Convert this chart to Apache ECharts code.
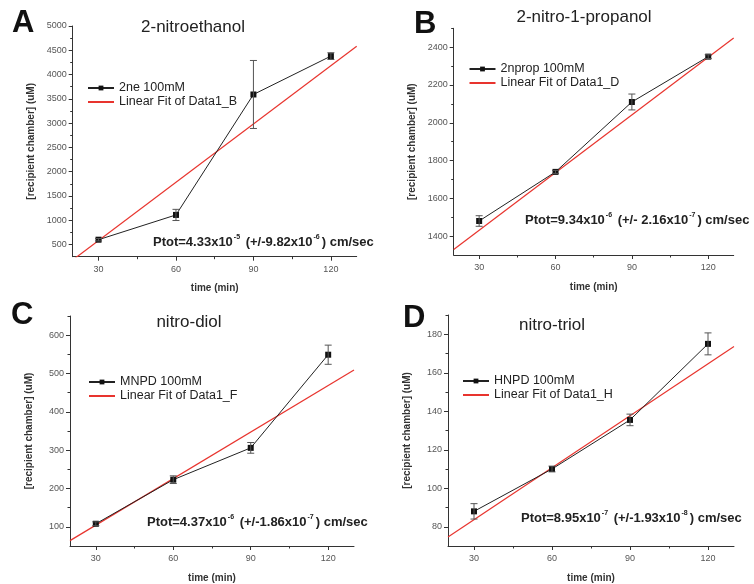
<!DOCTYPE html>
<html>
<head>
<meta charset="utf-8">
<script src="https://cdn.jsdelivr.net/npm/echarts@6/dist/echarts.min.js"></script>
<style>
  html, body { margin: 0; padding: 0; background: #fff; }
  #main { width: 754px; height: 584px; }
</style>
</head>
<body>
<div id="main"></div>
<script>
// time points (min)
var timeMin = [30, 60, 90, 120];
var xLabels = [30, 60, 90, 120];
var xMinor = [45, 75, 105];

// A - 2-nitroethanol
var meanA = [600, 1110, 3590, 4380];
var errA = [25, 115, 700, 70];
// B - 2-nitro-1-propanol
var meanB = [1480, 1740, 2110, 2350];
var errB = [28, 8, 42, 10];
// C - nitro-diol
var meanC = [108, 223, 306, 549];
var errC = [5, 10, 14, 25];
// D - nitro-triol
var meanD = [88, 110, 135.5, 175];
var errD = [4, 1.5, 3, 5.7];

// linear fit, read at the ends of the x range
var fitTime = [20, 130];
var fitA = [182, 4584];
var fitB = [1329, 2449];
var fitC = [64, 509];
var fitD = [74.7, 173.7];

// y tick labels
var yTicksA = [500, 1000, 1500, 2000, 2500, 3000, 3500, 4000, 4500, 5000];
var yMinorA = [750, 1250, 1750, 2250, 2750, 3250, 3750, 4250, 4750];
var yTicksB = [1400, 1600, 1800, 2000, 2200, 2400];
var yMinorB = [1500, 1700, 1900, 2100, 2300, 2500];
var yTicksC = [100, 200, 300, 400, 500, 600];
var yMinorC = [150, 250, 350, 450, 550, 650];
var yTicksD = [80, 100, 120, 140, 160, 180];
var yMinorD = [90, 110, 130, 150, 170, 190];

var seriesNames = ["2ne 100mM", "2nprop 100mM", "MNPD 100mM", "HNPD 100mM"];
var fitNames = ["Linear Fit of Data1_B", "Linear Fit of Data1_D", "Linear Fit of Data1_F", "Linear Fit of Data1_H"];
var titles = ["2-nitroethanol", "2-nitro-1-propanol", "nitro-diol", "nitro-triol"];
var letters = ["A", "B", "C", "D"];

var FONT = "Liberation Sans, Arial, sans-serif";
var chart = echarts.init(document.getElementById("main"));

var panels = [
  { grid: { left: 72.7, top: 26, width: 284, height: 230.7 }, min: 250, max: 5000,
    ticks: yTicksA, minor: yMinorA, mean: meanA, err: errA, fit: fitA,
    legend: { left: 87, top: 81 }, title: [193, 27], letter: [12, 8],
    ptot: [153, 242, "4.33x10", "-5", " (+/-9.82x10", "-6", ") cm/sec"] },
  { grid: { left: 453.7, top: 28.3, width: 280, height: 226.7 }, min: 1300, max: 2500,
    ticks: yTicksB, minor: yMinorB, mean: meanB, err: errB, fit: fitB,
    legend: { left: 468.5, top: 62 }, title: [584, 17], letter: [414, 9],
    ptot: [525, 220, "9.34x10", "-6", " (+/- 2.16x10", "-7", ") cm/sec"] },
  { grid: { left: 70, top: 316, width: 284, height: 230 }, min: 50, max: 650,
    ticks: yTicksC, minor: yMinorC, mean: meanC, err: errC, fit: fitC,
    legend: { left: 88, top: 375 }, title: [189, 322], letter: [11, 300],
    ptot: [147, 522, "4.37x10", "-6", " (+/-1.86x10", "-7", ") cm/sec"] },
  { grid: { left: 448, top: 315, width: 286, height: 231 }, min: 70, max: 190,
    ticks: yTicksD, minor: yMinorD, mean: meanD, err: errD, fit: fitD,
    legend: { left: 462, top: 374 }, title: [552, 325], letter: [403, 303],
    ptot: [521, 518, "8.95x10", "-7", " (+/-1.93x10", "-8", ") cm/sec"] }
];

var grids = [], xAxes = [], yAxes = [], series = [], legends = [], graphics = [];
var plain = function (v) { return String(v); };

panels.forEach(function (p, i) {
  grids.push(p.grid);
  var axisLine = { show: true, lineStyle: { color: "#333", width: 1 } };
  // main x axis
  xAxes.push({
    type: "value", gridIndex: i, position: "bottom", min: 20, max: 130,
    name: "time (min)", nameLocation: "middle", nameGap: 27,
    nameTextStyle: { fontFamily: FONT, fontWeight: "bold", fontSize: 10, color: "#333" },
    axisLine: axisLine,
    axisTick: { show: true, length: 4, customValues: xLabels, lineStyle: { color: "#333" } },
    axisLabel: { customValues: xLabels, formatter: plain, fontFamily: FONT, fontSize: 9, color: "#555", margin: 8 },
    splitLine: { show: false }
  });
  // minor x ticks
  xAxes.push({
    type: "value", gridIndex: i, position: "bottom", offset: 0, min: 20, max: 130,
    axisLine: { show: false },
    axisTick: { show: true, length: 2.5, customValues: xMinor, lineStyle: { color: "#333" } },
    axisLabel: { show: false }, splitLine: { show: false }
  });
  yAxes.push({
    type: "value", gridIndex: i, position: "left", min: p.min, max: p.max,
    name: "[recipient chamber] (uM)", nameLocation: "middle", nameGap: 36,
    nameTextStyle: { fontFamily: FONT, fontWeight: "bold", fontSize: 10, color: "#333" },
    axisLine: axisLine,
    axisTick: { show: true, length: 4, customValues: p.ticks, lineStyle: { color: "#333" } },
    axisLabel: { customValues: p.ticks, formatter: plain, fontFamily: FONT, fontSize: 9, color: "#555", margin: 6 },
    splitLine: { show: false }
  });
  yAxes.push({
    type: "value", gridIndex: i, position: "left", offset: 0, min: p.min, max: p.max,
    axisLine: { show: false },
    axisTick: { show: true, length: 2.5, customValues: p.minor, lineStyle: { color: "#333" } },
    axisLabel: { show: false }, splitLine: { show: false }
  });

  var xi = i * 2, yi = i * 2;
  var pts = timeMin.map(function (t, k) { return [t, p.mean[k]]; });
  var bars = timeMin.map(function (t, k) { return [t, p.mean[k] - p.err[k], p.mean[k] + p.err[k]]; });
  var fitPts = fitTime.map(function (t, k) { return [t, p.fit[k]]; });

  series.push({
    name: fitNames[i], type: "line", xAxisIndex: xi, yAxisIndex: yi,
    data: fitPts, symbol: "none", clip: true, z: 2,
    lineStyle: { color: "#e8342e", width: 1.2 }, itemStyle: { color: "#e8342e" }
  });
  series.push({
    name: seriesNames[i], type: "line", xAxisIndex: xi, yAxisIndex: yi,
    data: pts, symbol: "rect", symbolSize: 6, z: 3,
    lineStyle: { color: "#222", width: 1 }, itemStyle: { color: "#111" }
  });
  series.push({
    type: "custom", xAxisIndex: xi, yAxisIndex: yi, z: 4, data: bars,
    renderItem: function (params, api) {
      var x = api.value(0);
      var lo = api.coord([x, api.value(1)]);
      var hi = api.coord([x, api.value(2)]);
      var w = 3.5;
      var st = { stroke: "#555", lineWidth: 1 };
      return { type: "group", children: [
        { type: "line", shape: { x1: lo[0], y1: lo[1], x2: hi[0], y2: hi[1] }, style: st },
        { type: "line", shape: { x1: lo[0] - w, y1: lo[1], x2: lo[0] + w, y2: lo[1] }, style: st },
        { type: "line", shape: { x1: hi[0] - w, y1: hi[1], x2: hi[0] + w, y2: hi[1] }, style: st }
      ] };
    }
  });

  legends.push({
    data: [
      { name: seriesNames[i] },
      { name: fitNames[i], itemStyle: { opacity: 0 } }
    ],
    left: p.legend.left, top: p.legend.top, padding: 0,
    orient: "vertical", itemWidth: 26, itemHeight: 6, itemGap: 0,
    textStyle: { fontFamily: FONT, fontSize: 12.5, color: "#222", lineHeight: 14 }
  });

  graphics.push({
    type: "text", x: p.title[0], y: p.title[1],
    style: { text: titles[i], fontFamily: FONT, fontSize: 17, fill: "#222", align: "center", verticalAlign: "middle" }
  });
  graphics.push({
    type: "text", x: p.letter[0], y: p.letter[1],
    style: { text: letters[i], fontFamily: FONT, fontSize: 31, fontWeight: "bold", fill: "#111" }
  });
  var t = p.ptot;
  graphics.push({
    type: "text", x: t[0], y: t[1],
    style: {
      text: "{b|Ptot=" + t[2] + "}{s|" + t[3] + "}{b|" + t[4] + "}{s|" + t[5] + "}{b|" + t[6] + "}",
      verticalAlign: "middle",
      rich: {
        b: { fontFamily: FONT, fontSize: 13, fontWeight: "bold", fill: "#222", lineHeight: 16 },
        s: { fontFamily: FONT, fontSize: 7, fontWeight: "bold", fill: "#222", verticalAlign: "top", lineHeight: 16, padding: [0, 2, 8, 1] }
      }
    }
  });
});

chart.setOption({
  backgroundColor: "#fff",
  animation: false,
  grid: grids,
  xAxis: xAxes,
  yAxis: yAxes,
  series: series,
  legend: legends,
  graphic: graphics
});
</script>
</body>
</html>
